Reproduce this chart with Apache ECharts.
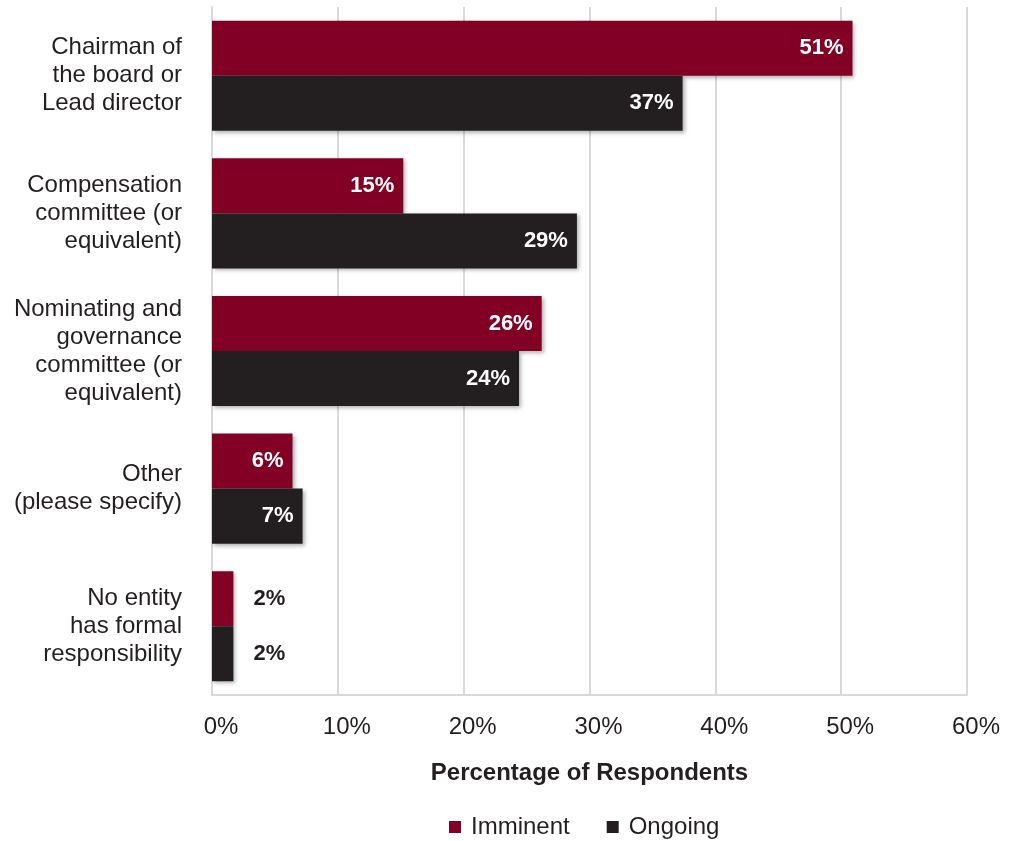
<!DOCTYPE html>
<html>
<head>
<meta charset="utf-8">
<script src="https://cdn.jsdelivr.net/npm/echarts@6/dist/echarts.min.js"></script>
<style>
  html, body { margin: 0; padding: 0; background: #fff; }
  #chart { width: 1015px; height: 841px; }
</style>
</head>
<body>
<div id="chart"></div>
<script>
// categories, top to bottom
const categories = [
  'Chairman of\nthe board or\nLead director',
  'Compensation\ncommittee (or\nequivalent)',
  'Nominating and\ngovernance\ncommittee (or\nequivalent)',
  'Other\n(please specify)',
  'No entity\nhas formal\nresponsibility'
];
// bar lengths (percent)
const imminent = [50.9, 15.2, 26.2, 6.4, 1.7];
const ongoing = [37.4, 29.0, 24.4, 7.2, 1.7];
// printed labels
const imminentLabels = ['51%', '15%', '26%', '6%', '2%'];
const ongoingLabels = ['37%', '29%', '24%', '7%', '2%'];
const xTicks = [0, 10, 20, 30, 40, 50, 60];

const FONT = '"Liberation Sans", Arial, sans-serif';
const RED = '#830025';
const DARK = '#231f20';

function barData(vals, labels) {
  return vals.map((v, i) => {
    const small = v < 4;
    return {
      value: v,
      label: {
        show: true,
        position: small ? 'right' : 'insideRight',
        distance: small ? 20 : 9,
        formatter: labels[i],
        color: small ? DARK : '#fff',
        fontWeight: 'bold',
        fontSize: 22,
        fontFamily: FONT
      }
    };
  });
}

const chart = echarts.init(document.getElementById('chart'));
chart.setOption({
  animation: false,
  grid: { left: 212, right: 48, top: 7, bottom: 146, containLabel: false },
  legend: {
    left: 444, top: 810,
    itemWidth: 12, itemHeight: 12, itemGap: 37,
    icon: 'rect',
    textStyle: { fontSize: 24, color: DARK, fontFamily: FONT, padding: [0, 0, 0, 5] },
    data: ['Imminent', 'Ongoing']
  },
  xAxis: {
    type: 'value',
    min: xTicks[0], max: xTicks[xTicks.length - 1], interval: 10,
    name: 'Percentage of Respondents',
    nameLocation: 'middle',
    nameGap: 66,
    nameTextStyle: { fontSize: 24, fontWeight: 'bold', color: DARK, fontFamily: FONT },
    axisLine: { show: true, lineStyle: { color: '#d9d9d9', width: 2 } },
    axisTick: { show: false },
    axisLabel: {
      formatter: v => v + '%',
      fontSize: 24, color: DARK, fontFamily: FONT,
      margin: 20, padding: [0, 0, 0, 18]
    },
    splitLine: { show: true, lineStyle: { color: '#d9d9d9', width: 2 } }
  },
  yAxis: {
    type: 'category',
    inverse: true,
    data: categories,
    axisLine: { show: true, lineStyle: { color: '#d9d9d9', width: 2 } },
    axisTick: { show: false },
    axisLabel: {
      fontSize: 24, color: DARK, fontFamily: FONT,
      lineHeight: 28, margin: 30, align: 'right', padding: [0, 0, 4, 0]
    }
  },
  series: [
    {
      name: 'Imminent', type: 'bar',
      data: barData(imminent, imminentLabels),
      barGap: '0%', barCategoryGap: '20%',
      itemStyle: { color: RED, shadowBlur: 4, shadowOffsetX: 2, shadowOffsetY: 2, shadowColor: 'rgba(0,0,0,0.3)' }
    },
    {
      name: 'Ongoing', type: 'bar',
      data: barData(ongoing, ongoingLabels),
      barGap: '0%', barCategoryGap: '20%',
      itemStyle: { color: DARK, shadowBlur: 4, shadowOffsetX: 2, shadowOffsetY: 2, shadowColor: 'rgba(0,0,0,0.3)' }
    }
  ]
});
</script>
</body>
</html>
